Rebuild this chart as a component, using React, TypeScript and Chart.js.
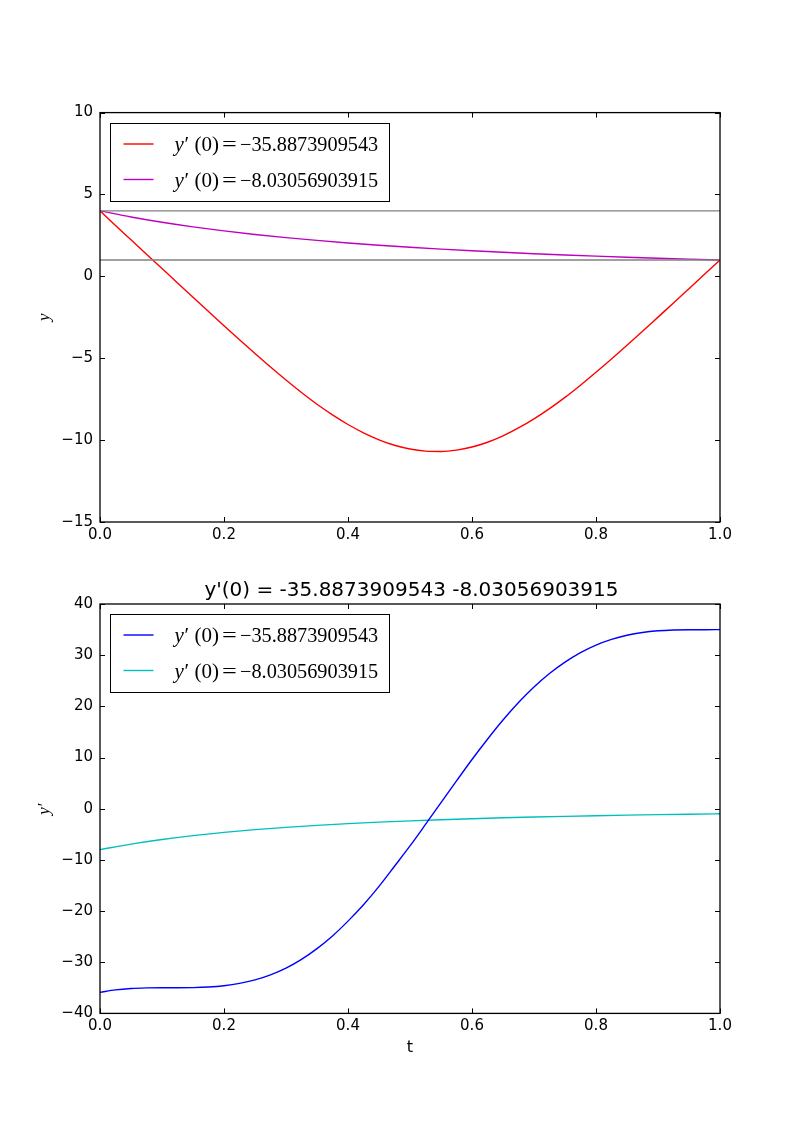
import React, { useEffect, useRef } from 'react';
import { Chart, registerables } from 'chart.js';

Chart.register(...registerables);

// ---- data ----
const tFine = [0, 0.025, 0.05, 0.075, 0.1, 0.125, 0.15, 0.175, 0.2, 0.225, 0.25, 0.275, 0.3, 0.325, 0.35, 0.375, 0.4, 0.425, 0.45, 0.475, 0.5, 0.525, 0.55, 0.575, 0.6, 0.625, 0.65, 0.675, 0.7, 0.725, 0.75, 0.775, 0.8, 0.825, 0.85, 0.875, 0.9, 0.925, 0.95, 0.975, 1.0];
const yFirst = [4.0, 3.108, 2.23, 1.35, 0.475, -0.4, -1.274, -2.146, -3.014, -3.873, -4.715, -5.54, -6.33, -7.094, -7.81, -8.459, -9.047, -9.554, -9.979, -10.315, -10.542, -10.669, -10.693, -10.61, -10.42, -10.13, -9.74, -9.259, -8.7, -8.074, -7.39, -6.645, -5.86, -5.049, -4.21, -3.357, -2.49, -1.624, -0.75, 0.126, 1.0];
const dyFirst = [-35.887, -35.41, -35.14, -35.02, -34.985, -34.984, -34.955, -34.84, -34.59, -34.14, -33.45, -32.46, -31.15, -29.44, -27.34, -24.87, -21.97, -18.76, -15.17, -11.24, -7.28, -3.08, 1.2, 5.43, 9.62, 13.58, 17.32, 20.74, 23.78, 26.41, 28.64, 30.5, 31.98, 33.09, 33.9, 34.44, 34.76, 34.92, 34.98, 34.98, 35.0];
const tCoarse = [0, 0.05, 0.1, 0.15, 0.2, 0.25, 0.3, 0.35, 0.4, 0.45, 0.5, 0.55, 0.6, 0.65, 0.7, 0.75, 0.8, 0.85, 0.9, 0.95, 1.0];
const ySecond = [4.0, 3.628, 3.306, 3.025, 2.778, 2.56, 2.367, 2.195, 2.041, 1.902, 1.778, 1.665, 1.5625, 1.469, 1.384, 1.306, 1.235, 1.169, 1.108, 1.052, 1.0];
const dySecond = [-8.0, -6.911, -6.011, -5.26, -4.63, -4.096, -3.641, -3.252, -2.915, -2.624, -2.37, -2.148, -1.953, -1.781, -1.628, -1.493, -1.372, -1.264, -1.166, -1.079, -1.0];
const boundaryValues = [4, 1];
const boundaryRange = [0, 1];
const slopeLabels = ['\u221235.8873909543', '\u22128.03056903915'];
const titleText = "y'(0) = -35.8873909543 -8.03056903915";
const xLabel = 't';
const xRange = [0, 1, 0.2];
const yRangeTop = [-15, 10, 5];
const yRangeBottom = [-40, 40, 10];

const MATH_FONT = '"Liberation Serif"';

type Panel = {
  canvasTop: number;
  padTop: number;
  padBottom: number;
  yRange: number[];
  datasets: any[];
  legendColors: string[];
  yPrime: boolean;
  title?: string;
  xTitle?: string;
};

const fmtNum = (v: number) => (v < 0 ? '\u2212' + Math.abs(v) : String(v));

const framePlugin = {
  id: 'frame',
  afterDraw(chart: any) {
    const ctx = chart.ctx as CanvasRenderingContext2D;
    const p: Panel = chart.options.plugins.frame;
    const { left, right, top, bottom } = chart.chartArea;
    const xs = chart.scales.x;
    const ys = chart.scales.y;
    ctx.save();
    ctx.strokeStyle = '#000';
    ctx.lineWidth = 1.3;
    ctx.strokeRect(left, top, right - left, bottom - top);
    const tl = 5;
    ctx.lineWidth = 1;
    ctx.beginPath();
    xs.ticks.forEach((t: any) => {
      const px = Math.round(xs.getPixelForValue(t.value)) + 0.5;
      ctx.moveTo(px, bottom);
      ctx.lineTo(px, bottom - tl);
      ctx.moveTo(px, top);
      ctx.lineTo(px, top + tl);
    });
    ys.ticks.forEach((t: any) => {
      const py = Math.round(ys.getPixelForValue(t.value)) + 0.5;
      ctx.moveTo(left, py);
      ctx.lineTo(left + tl, py);
      ctx.moveTo(right, py);
      ctx.lineTo(right - tl, py);
    });
    ctx.stroke();

    // legend
    const bx = Math.round(left + 10) + 0.5;
    const by = Math.round(top + 10) + 0.5;
    const bw = 279;
    const bh = 78;
    ctx.fillStyle = '#fff';
    ctx.fillRect(bx, by, bw, bh);
    ctx.strokeStyle = '#000';
    ctx.lineWidth = 1;
    ctx.strokeRect(bx, by, bw, bh);
    const rows = [20.5, 56];
    rows.forEach((ry, i) => {
      const ly = by + ry;
      ctx.strokeStyle = p.legendColors[i];
      ctx.lineWidth = 1.4;
      ctx.beginPath();
      ctx.moveTo(bx + 13, ly);
      ctx.lineTo(bx + 43, ly);
      ctx.stroke();
      const x0 = bx + 64;
      const base = ly + 7;
      ctx.fillStyle = '#000';
      ctx.textBaseline = 'alphabetic';
      ctx.textAlign = 'left';
      ctx.font = 'italic 21px ' + MATH_FONT;
      ctx.fillText('y', x0, base);
      ctx.font = '21px ' + MATH_FONT;
      ctx.fillText('\u2032', x0 + 10, base);
      ctx.fillText('(0)', x0 + 20, base);
      ctx.save();
      ctx.translate(x0 + 55, base);
      ctx.scale(1.25, 1);
      ctx.textAlign = 'center';
      ctx.fillText('=', 0, 0);
      ctx.restore();
      ctx.textAlign = 'left';
      ctx.font = '20.3px ' + MATH_FONT;
      ctx.fillText(slopeLabels[i], x0 + 65.5, base);
    });

    // y label
    const cy = (top + bottom) / 2;
    ctx.save();
    ctx.translate(48.5, cy);
    ctx.rotate(-Math.PI / 2);
    ctx.fillStyle = '#000';
    ctx.textBaseline = 'alphabetic';
    ctx.font = 'italic 17px ' + MATH_FONT;
    const wy = ctx.measureText('y').width;
    ctx.font = '17px ' + MATH_FONT;
    const wp = p.yPrime ? ctx.measureText('\u2032').width + 1 : 0;
    const start = -(wy + wp) / 2;
    ctx.font = 'italic 17px ' + MATH_FONT;
    ctx.textAlign = 'left';
    ctx.fillText('y', start, 0);
    if (p.yPrime) {
      ctx.font = '17px ' + MATH_FONT;
      ctx.fillText('\u2032', start + wy + 1, 0);
    }
    ctx.restore();

    // title
    ctx.fillStyle = '#000';
    if (p.title) {
      ctx.font = '20px "DejaVu Sans"';
      ctx.textAlign = 'center';
      ctx.textBaseline = 'alphabetic';
      ctx.fillText(p.title, (left + right) / 2 + 1.5, top - 8);
    }
    if (p.xTitle) {
      ctx.font = '16px "DejaVu Sans"';
      ctx.textAlign = 'center';
      ctx.textBaseline = 'alphabetic';
      ctx.fillText(p.xTitle, (left + right) / 2, bottom + 39);
    }
    ctx.restore();
  },
};

function makeConfig(p: Panel): any {
  return {
    type: 'line',
    data: { datasets: p.datasets },
    options: {
      animation: false,
      responsive: false,
      devicePixelRatio: 1,
      layout: { padding: { left: 40, right: 80, top: p.padTop, bottom: p.padBottom } },
      elements: { point: { radius: 0 } },
      plugins: {
        legend: { display: false },
        tooltip: { enabled: false },
        title: { display: false },
        frame: p,
      },
      scales: {
        x: {
          type: 'linear',
          min: xRange[0],
          max: xRange[1],
          grid: { display: false, drawTicks: false },
          border: { display: false },
          ticks: {
            stepSize: xRange[2],
            autoSkip: false,
            maxRotation: 0,
            padding: 4,
            color: '#000',
            font: { family: 'DejaVu Sans', size: 15 },
            callback: (v: any) => Number(v).toFixed(1),
          },
          afterFit: (s: any) => {
            s.height = 30;
          },
        },
        y: {
          type: 'linear',
          min: p.yRange[0],
          max: p.yRange[1],
          grid: { display: false, drawTicks: false },
          border: { display: false },
          ticks: {
            stepSize: p.yRange[2],
            autoSkip: false,
            padding: 7,
            color: '#000',
            font: { family: 'DejaVu Sans', size: 15 },
            callback: (v: any) => fmtNum(Number(v)),
          },
          afterFit: (s: any) => {
            s.width = 60;
          },
        },
      },
    },
    plugins: [framePlugin],
  };
}

const series = (ts: number[], vals: number[]) => ts.map((t, i) => ({ x: t, y: vals[i] }));
const hline = (v: number) => boundaryRange.map((x) => ({ x, y: v }));

const curve = (data: any[], color: string, smooth = true) => ({
  data,
  borderColor: color,
  borderWidth: 1.4,
  fill: false,
  cubicInterpolationMode: smooth ? 'monotone' : 'default',
  pointRadius: 0,
});

function PanelChart({ panel }: { panel: Panel }) {
  const ref = useRef<HTMLCanvasElement | null>(null);
  useEffect(() => {
    if (!ref.current) return;
    const chart = new Chart(ref.current, makeConfig(panel));
    return () => chart.destroy();
  }, [panel]);
  return (
    <canvas
      ref={ref}
      width={800}
      height={563}
      style={{ position: 'absolute', left: 0, top: panel.canvasTop, width: 800, height: 563 }}
    />
  );
}

const topPanel: Panel = {
  canvasTop: 0,
  padTop: 112.6,
  padBottom: 11,
  yRange: yRangeTop,
  legendColors: ['#ff0000', '#bf00bf'],
  yPrime: false,
  datasets: [
    curve(hline(boundaryValues[0]), '#808080', false),
    curve(hline(boundaryValues[1]), '#808080', false),
    curve(series(tFine, yFirst), '#ff0000'),
    curve(series(tCoarse, ySecond), '#bf00bf'),
  ],
};

const bottomPanel: Panel = {
  canvasTop: 563,
  padTop: 41,
  padBottom: 82.6,
  yRange: yRangeBottom,
  legendColors: ['#0000ff', '#00bfbf'],
  yPrime: true,
  title: titleText,
  xTitle: xLabel,
  datasets: [curve(series(tFine, dyFirst), '#0000ff'), curve(series(tCoarse, dySecond), '#00bfbf')],
};

export default function App() {
  return (
    <div style={{ position: 'absolute', left: 0, top: 0, width: 800, height: 1126, background: '#fff' }}>
      <PanelChart panel={topPanel} />
      <PanelChart panel={bottomPanel} />
    </div>
  );
}
